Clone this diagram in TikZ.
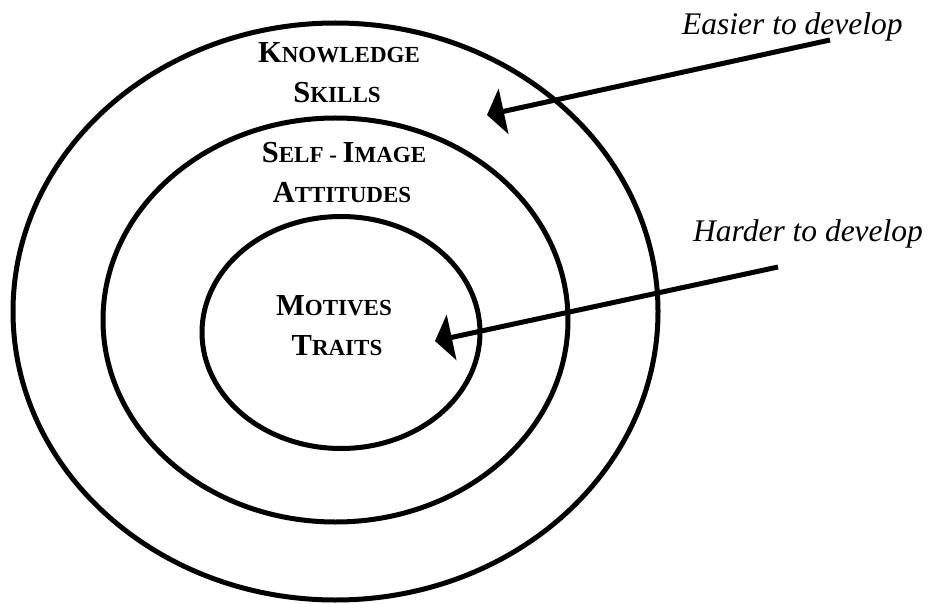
\documentclass[tikz,border=0pt]{standalone}
\usepackage{fontspec}
\setmainfont{Liberation Serif}
\usetikzlibrary{shapes.geometric,arrows.meta}
\newcommand\bigc[1]{{\fontsize{30.5}{31}\selectfont #1}}
\newcommand\smallc[1]{{\fontsize{23}{23}\selectfont #1}}
\begin{document}
\begin{tikzpicture}[x=1pt,y=-1pt,
  ring/.style={ellipse,draw,line width=5pt,inner sep=0pt},
  lbl/.style={font=\bfseries,inner sep=0pt,anchor=base},
  note/.style={font=\itshape\fontsize{31.5}{32}\selectfont,inner sep=0pt,anchor=base west},
  arr/.style={line width=5pt,-{Triangle[length=17pt,width=46pt]}}]
\useasboundingbox (0,0) rectangle (937,604);
\node[ring,minimum width=645pt,minimum height=577pt] (outer) at (335.5,311.5) {};
\node[ring,minimum width=465pt,minimum height=404pt] (middle) at (335.5,320) {};
\node[ring,minimum width=278pt,minimum height=232pt] (inner) at (341,332.5) {};
\node[lbl] (k) at (339,63) {\bigc{K}\smallc{NOWLEDGE}};
\node[lbl] (s) at (337,103) {\bigc{S}\smallc{KILLS}};
\node[lbl] (si) at (344,163) {\bigc{S}\smallc{ELF - }\bigc{I}\smallc{MAGE}};
\node[lbl] (at) at (342,203) {\bigc{A}\smallc{TTITUDES}};
\node[lbl] (mo) at (334,315) {\bigc{M}\smallc{OTIVES}};
\node[lbl] (tr) at (337,355) {\bigc{T}\smallc{RAITS}};
\node[note] (easy) at (682,35) {Easier to develop};
\node[note] (hard) at (693,242) {Harder to develop};
\coordinate (e1) at (830,40);
\coordinate (e2) at (487,115);
\coordinate (h1) at (778,267);
\coordinate (h2) at (435,341);
\draw[arr] (e1) -- (e2);
\draw[arr] (h1) -- (h2);
\end{tikzpicture}
\end{document}
